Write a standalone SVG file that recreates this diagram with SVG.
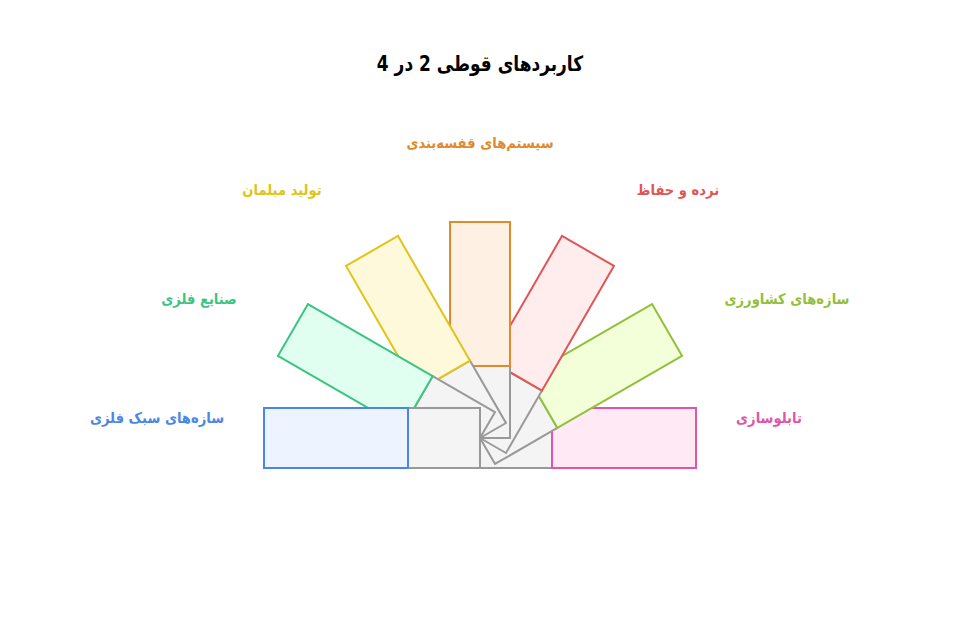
<svg xmlns="http://www.w3.org/2000/svg" width="960" height="624" viewBox="0 0 960 624">
<style>
text{font-family:"DejaVu Sans Condensed","DejaVu Sans",sans-serif;font-stretch:condensed;font-weight:bold;text-anchor:middle;direction:rtl}
.lbl{font-size:14.6px}
.g{fill:#f4f4f4;stroke:#999999;stroke-width:2}
.blade{stroke-width:2}
</style>
<rect width="960" height="624" fill="#ffffff"/>
<g id="title" transform="translate(480,71) scale(0.9,1)"><text x="0" y="0" style="font-size:21px" fill="#000000">کاربردهای قوطی 2 در 4</text></g>
<g id="connectors"></g>
<g id="blade-pink" transform="translate(480,438) rotate(180)">
<rect class="g" x="-72" y="-30" width="72" height="60"/>
<rect class="blade" x="-216" y="-30" width="144" height="60" fill="#ffe9f5" stroke="#e055a8"/>
</g>
<g id="blade-lime" transform="translate(480,438) rotate(150)">
<rect class="g" x="-72" y="-30" width="72" height="60"/>
<rect class="blade" x="-216" y="-30" width="144" height="60" fill="#f3ffd9" stroke="#93c03a"/>
</g>
<g id="blade-red" transform="translate(480,438) rotate(120)">
<rect class="g" x="-72" y="-30" width="72" height="60"/>
<rect class="blade" x="-216" y="-30" width="144" height="60" fill="#ffecec" stroke="#e05555"/>
</g>
<g id="blade-orange" transform="translate(480,438) rotate(90)">
<rect class="g" x="-72" y="-30" width="72" height="60"/>
<rect class="blade" x="-216" y="-30" width="144" height="60" fill="#fff0e4" stroke="#e08a30"/>
</g>
<g id="blade-yellow" transform="translate(480,438) rotate(60)">
<rect class="g" x="-72" y="-30" width="72" height="60"/>
<rect class="blade" x="-216" y="-30" width="144" height="60" fill="#fff9dc" stroke="#e0c419"/>
</g>
<g id="blade-green" transform="translate(480,438) rotate(30)">
<rect class="g" x="-72" y="-30" width="72" height="60"/>
<rect class="blade" x="-216" y="-30" width="144" height="60" fill="#e0fff0" stroke="#3cc483"/>
</g>
<g id="blade-blue" transform="translate(480,438) rotate(0)">
<rect class="g" x="-72" y="-30" width="72" height="60"/>
<rect class="blade" x="-216" y="-30" width="144" height="60" fill="#edf3ff" stroke="#4a86e8"/>
</g>
<g id="label-orange"><text class="lbl" x="480" y="148" fill="#e08a30">سیستم‌های قفسه‌بندی</text></g>
<g id="label-yellow"><text class="lbl" x="282" y="195" fill="#e0c419">تولید مبلمان</text></g>
<g id="label-red"><text class="lbl" x="678" y="195" fill="#e05555">نرده و حفاظ</text></g>
<g id="label-green"><text class="lbl" x="199" y="304" fill="#3cc483">صنایع فلزی</text></g>
<g id="label-lime"><text class="lbl" x="787" y="304" fill="#93c03a">سازه‌های کشاورزی</text></g>
<g id="label-blue"><text class="lbl" x="157" y="423" fill="#4a86e8">سازه‌های سبک فلزی</text></g>
<g id="label-pink"><text class="lbl" x="769" y="423" fill="#e055a8">تابلوسازی</text></g>
</svg>
